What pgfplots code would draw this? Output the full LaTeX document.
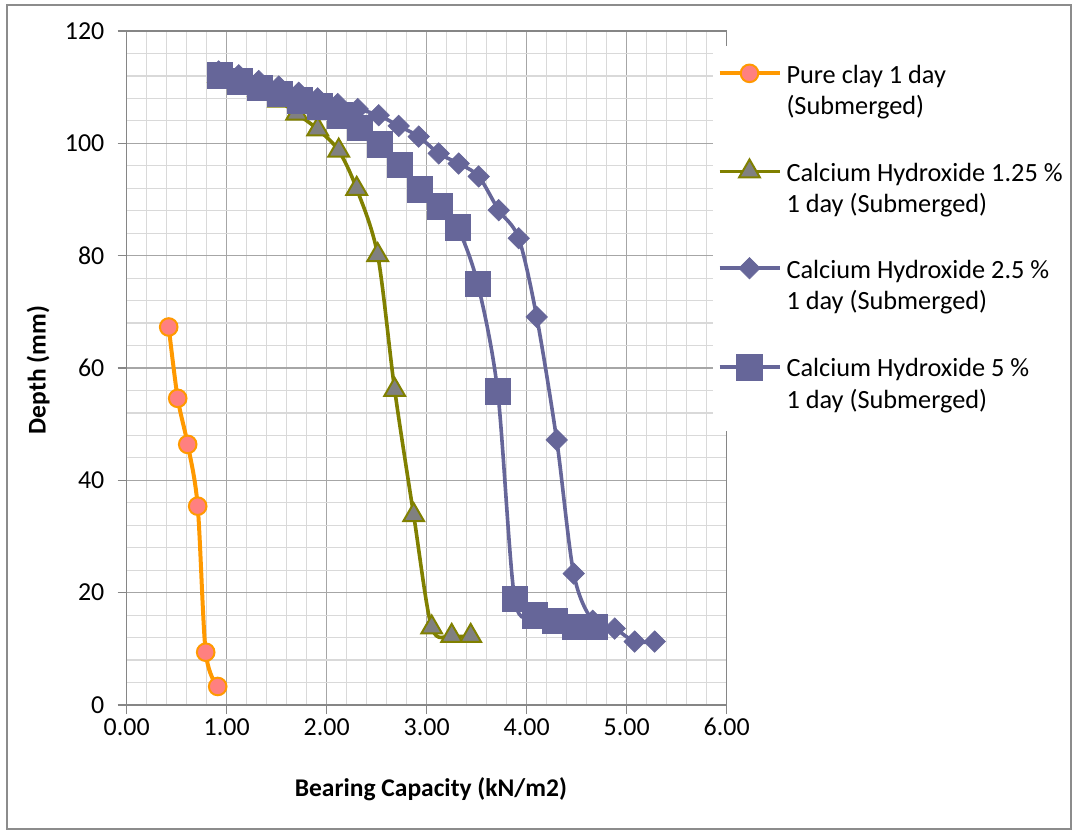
\documentclass[border=0pt]{standalone}
\usepackage{fontspec}
\setmainfont{Carlito}
\usepackage{pgfplots}
\pgfplotsset{compat=1.18}
\definecolor{corange}{HTML}{FF9900}
\definecolor{csalmon}{HTML}{FF8080}
\definecolor{colive}{HTML}{808000}
\definecolor{cgray}{HTML}{808080}
\definecolor{cblue}{HTML}{666699}
\definecolor{gridmajor}{HTML}{A6A6A6}
\definecolor{gridminor}{HTML}{D9D9D9}
\definecolor{axisgray}{HTML}{868686}
\definecolor{framegray}{HTML}{8C8C8C}

\pgfplotstableread{
x y
0.42 67.3
0.51 54.6
0.61 46.4
0.71 35.4
0.79 9.4
0.91 3.3
}\pureclay

\pgfplotstableread{
x y
0.92 112.0
1.12 111.0
1.32 109.5
1.52 107.6
1.70 105.3
1.91 102.5
2.12 98.7
2.30 91.9
2.51 80.1
2.68 56.1
2.87 33.8
3.05 13.8
3.25 12.3
3.44 12.3
}\caA

\pgfplotstableread{
x y
0.92 112.8
1.12 112.1
1.32 111.1
1.52 110.1
1.72 109.0
1.91 108.0
2.11 107.0
2.31 106.1
2.52 105.0
2.72 103.1
2.92 101.2
3.12 98.2
3.32 96.4
3.52 94.1
3.72 88.1
3.92 83.1
4.10 69.1
4.30 47.2
4.47 23.4
4.66 15.0
4.88 13.6
5.08 11.3
5.28 11.3
}\caB

\pgfplotstableread{
x y
0.93 112.1
1.13 111.0
1.33 109.9
1.53 108.8
1.73 107.7
1.93 106.6
2.13 105.0
2.33 102.8
2.53 99.8
2.73 96.2
2.93 91.8
3.13 88.8
3.31 85.0
3.51 75.0
3.71 55.8
3.88 18.9
4.08 16.0
4.28 15.0
4.48 13.9
4.68 13.9
}\caC

\begin{document}
\begin{tikzpicture}
\useasboundingbox (-63.35bp,-64.5bp) rectangle (475.15bp,352.5bp);
\draw[framegray, line width=0.8bp] (-59.85bp,-62bp) rectangle (472.15bp,350bp);
\begin{axis}[
  at={(0,0)}, anchor=south west,
  scale only axis, width=300bp, height=337bp,
  xmin=0, xmax=6, ymin=0, ymax=120,
  xtick={0,1,...,6}, ytick={0,20,...,120},
  minor x tick num=4, minor y tick num=4,
  grid=both,
  major grid style={color=gridmajor, line width=0.6bp},
  minor grid style={color=gridminor, line width=0.6bp},
  axis line style={color=axisgray, line width=0.6bp},
  tick align=outside, major tick length=4.5bp, minor tick length=0pt,
  tick style={color=axisgray, line width=0.6bp},
  xtick pos=left, ytick pos=left,
  /pgf/number format/assume math mode=true,
  xticklabel={\pgfmathprintnumber[fixed,fixed zerofill,precision=2]{\tick}},
  yticklabel={\pgfmathprintnumber[fixed,precision=0]{\tick}},
  tick label style={font=\fontsize{13}{15}\selectfont, text=black},
  xticklabel style={anchor=north, inner sep=0pt, yshift=-2bp},
  yticklabel style={anchor=east, inner sep=0pt, xshift=-6.5bp},
  xlabel={Bearing Capacity (kN/m2)},
  ylabel={Depth (mm)},
  label style={font=\fontsize{12.8}{14}\selectfont\bfseries},
  xlabel style={at={(axis description cs:0.507,-0.1246)}, anchor=center},
  ylabel style={at={(axis description cs:-0.1477,0.497)}, anchor=center, rotate=0},
  legend style={at={(axis description cs:0.9757,0.979)}, anchor=north west,
    draw=none, fill=white, inner xsep=2.5bp, inner ysep=9.5bp,
    row sep=20.8bp, column sep=2.5bp,
    nodes={align=left, inner sep=0pt, font=\fontsize{13.2}{15.9}\selectfont}},
  legend cell align=left,
  legend image code/.code={%
    \draw[mark repeat=2,mark phase=2, yshift=9bp]
      plot coordinates {(0bp,0bp)(15bp,0bp)(30bp,0bp)};},
]
\addplot[corange, line width=2bp, smooth, tension=0.5, mark=*,
  mark size=4.4bp, mark options={fill=csalmon, draw=corange, line width=1bp}]
  table[x=x,y=y] {\pureclay};
\addlegendentry{Pure clay 1 day\\(Submerged)}
\addplot[colive, line width=1.8bp, smooth, tension=0.5, mark=triangle*,
  mark size=6bp, mark options={fill=cgray, draw=colive, line width=1bp}]
  table[x=x,y=y] {\caA};
\addlegendentry{Calcium Hydroxide 1.25 \%\\1 day (Submerged)}
\addplot[cblue, line width=1.8bp, smooth, tension=0.5, mark=square*,
  mark size=3.8bp, mark options={fill=cblue, draw=cblue, rotate=45, line width=0.3bp}]
  table[x=x,y=y] {\caB};
\addlegendentry{Calcium Hydroxide 2.5 \%\\1 day (Submerged)}
\addplot[cblue, line width=1.8bp, smooth, tension=0.5, mark=square*,
  mark size=6.4bp, mark options={fill=cblue, draw=cblue, line width=0.3bp}]
  table[x=x,y=y] {\caC};
\addlegendentry{Calcium Hydroxide 5 \%\\1 day (Submerged)}
\end{axis}
\end{tikzpicture}
\end{document}
